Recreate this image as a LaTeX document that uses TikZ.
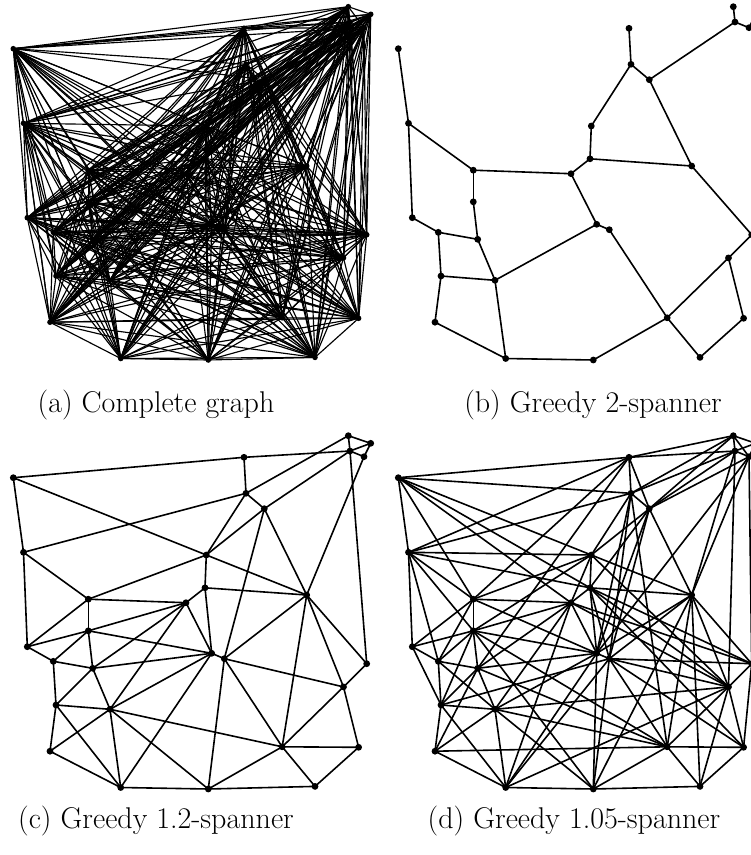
\documentclass[tikz,border=0pt]{standalone}
\ExplSyntaxOn
\clist_const:Nn \c_gs_x_clist
 {348.3,370.7,350,364,244,13.3,246,264.3,23.5,206.3,205,306.7,88.3,186,88.3,27.3,211.7,224.3,53.3,366.7,92.7,343.5,56,110,282.2,358.6,50,120.7,208.3,315}
\clist_const:Nn \c_gs_y_clist
 {6.7,14.3,22,27.7,28.3,48.7,64.3,79.7,123.3,126,158.8,166,170.2,173.7,201.8,217.7,224.3,229.7,232.3,234.7,239.3,257.9,276,280.3,317.8,318.3,322.2,358.5,360,357.4}
\int_const:Nn \c_gs_inf_int {10000000}
\int_new:N \l_gs_a_int
\int_new:N \l_gs_b_int
\int_new:N \l_gs_c_int
\int_new:N \l_gs_t_int
\intarray_new:Nn \g_gs_D_intarray {900}
\seq_new:N \g_gs_edges_seq
\int_step_inline:nn {29}
 {
  \int_step_inline:nnn {#1+1} {30}
   {
    \seq_gput_right:Nx \g_gs_edges_seq
     {
      { \fp_eval:n { round( 100 * sqrt( ( \clist_item:Nn \c_gs_x_clist {#1} - \clist_item:Nn \c_gs_x_clist {##1} )^2 + ( \clist_item:Nn \c_gs_y_clist {#1} - \clist_item:Nn \c_gs_y_clist {##1} )^2 ) ) } }
      {#1} {##1}
     }
   }
 }
\seq_gsort:Nn \g_gs_edges_seq
 {
  \int_compare:nNnTF { \use_i:nnn #1 } > { \use_i:nnn #2 }
   { \sort_return_swapped: } { \sort_return_same: }
 }
\cs_new_protected:Npn \gs_update:nnn #1#2#3
 {
  \int_step_inline:nn {30}
   {
    \int_set:Nn \l_gs_a_int { \intarray_item:Nn \g_gs_D_intarray { (##1-1)*30 + #1 } + #3 }
    \int_set:Nn \l_gs_b_int { \intarray_item:Nn \g_gs_D_intarray { (##1-1)*30 + #2 } + #3 }
    \int_step_inline:nn {30}
     {
      \int_set:Nn \l_gs_c_int { \intarray_item:Nn \g_gs_D_intarray { (##1-1)*30 + ####1 } }
      \int_set:Nn \l_gs_t_int { \l_gs_a_int + \intarray_item:Nn \g_gs_D_intarray { (#2-1)*30 + ####1 } }
      \int_compare:nNnT \l_gs_t_int < \l_gs_c_int { \int_set_eq:NN \l_gs_c_int \l_gs_t_int }
      \int_set:Nn \l_gs_t_int { \l_gs_b_int + \intarray_item:Nn \g_gs_D_intarray { (#1-1)*30 + ####1 } }
      \int_compare:nNnT \l_gs_t_int < \l_gs_c_int { \int_set_eq:NN \l_gs_c_int \l_gs_t_int }
      \intarray_gset:Nnn \g_gs_D_intarray { (##1-1)*30 + ####1 } { \l_gs_c_int }
     }
   }
 }
\cs_new_protected:Npn \gs_check:nnnnnN #1#2#3#4#5#6
 {
  \int_compare:nNnT { #5 * \intarray_item:Nn \g_gs_D_intarray { (#2-1)*30+#3 } } > { #4 * #1 }
   {
    \clist_gput_right:Nn #6 { #2/#3 }
    \gs_update:nnn {#2} {#3} {#1}
   }
 }
\cs_new_protected:Npn \gs_greedy:nnN #1#2#3
 {
  \clist_gclear:N #3
  \int_step_inline:nn {900} { \intarray_gset:Nnn \g_gs_D_intarray {##1} { \c_gs_inf_int } }
  \int_step_inline:nn {30} { \intarray_gset:Nnn \g_gs_D_intarray { (##1-1)*30+##1 } {0} }
  \seq_map_inline:Nn \g_gs_edges_seq { \gs_check:nnnnnN ##1 {#1} {#2} #3 }
 }
\clist_new:N \g_gs_b_clist
\clist_new:N \g_gs_c_clist
\clist_new:N \g_gs_d_clist
\gs_greedy:nnN {2}{1} \g_gs_b_clist
\gs_greedy:nnN {6}{5} \g_gs_c_clist
\gs_greedy:nnN {21}{20} \g_gs_d_clist
\clist_new:N \g_gs_pts_clist
\int_step_inline:nn {30}
 { \clist_gput_right:Nx \g_gs_pts_clist { #1 / \clist_item:Nn \c_gs_x_clist {#1} / \clist_item:Nn \c_gs_y_clist {#1} } }
\cs_new_eq:NN \EdgesB \g_gs_b_clist
\cs_new_eq:NN \EdgesC \g_gs_c_clist
\cs_new_eq:NN \EdgesD \g_gs_d_clist
\cs_new_eq:NN \PtsList \g_gs_pts_clist
\ExplSyntaxOff
\tikzset{
  ptdot/.style={circle, fill=black, inner sep=0pt, minimum size=6.8pt},
  ptdota/.style={circle, fill=black, inner sep=0pt, minimum size=5.6pt},
  spedge/.style={line width=1.6pt},
  thinedge/.style={line width=1.15pt},
  captxt/.style={font=\fontsize{30}{35}\selectfont, anchor=base, inner sep=0pt}
}
\begin{document}
\begin{tikzpicture}[x=1pt,y=-1pt]
\useasboundingbox (0,0) rectangle (751,855);
\clip (0,0) rectangle (751,855);
\foreach \k/\x/\y in \PtsList {
  \node[ptdota] (a\k) at (\x,\y) {};
  \node[ptdot] (b\k) at (\x+385,\y) {};
  \node[ptdot] (c\k) at (\x,\y+429) {};
  \node[ptdot] (d\k) at (\x+385,\y+429) {};
}
\foreach \i in {1,...,29}{
  \pgfmathtruncatemacro\jst{\i+1}
  \foreach \j in {\jst,...,30}{ \draw[thinedge] (a\i.center) -- (a\j.center); }
}
\foreach \i/\j in \EdgesB { \draw[spedge] (b\i.center) -- (b\j.center); }
\foreach \i/\j in \EdgesC { \draw[spedge] (c\i.center) -- (c\j.center); }
\foreach \i/\j in \EdgesD { \draw[spedge] (d\i.center) -- (d\j.center); }
\node[captxt] (capa) at (156,412) {(a) Complete graph};
\node[captxt] (capb) at (593,412) {(b) Greedy 2-spanner};
\node[captxt] (capc) at (156,828) {(c) Greedy 1.2-spanner};
\node[captxt] (capd) at (574,828) {(d) Greedy 1.05-spanner};
\end{tikzpicture}
\end{document}
